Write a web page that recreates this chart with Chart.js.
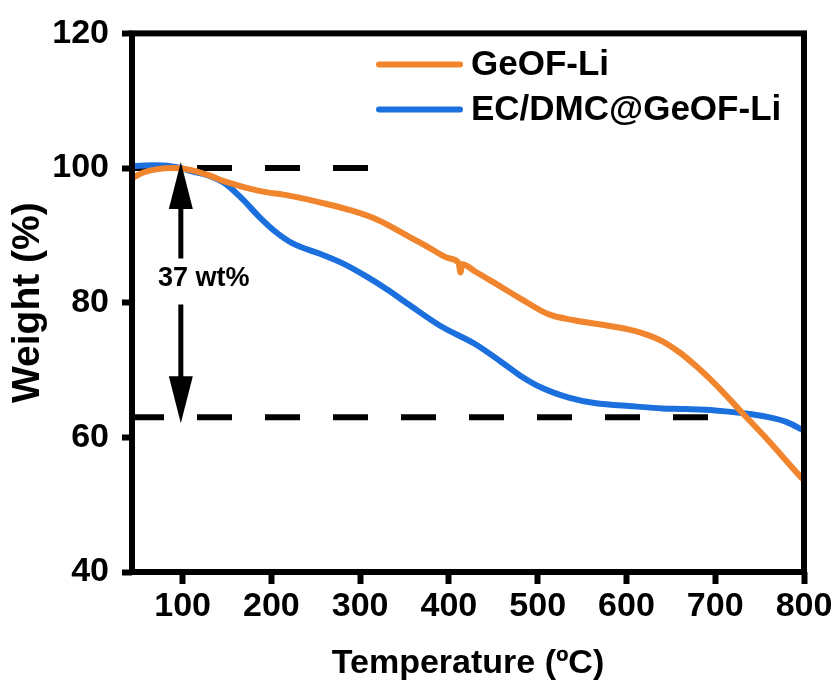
<!DOCTYPE html>
<html>
<head>
<meta charset="utf-8">
<title>TGA</title>
<script src="https://cdn.jsdelivr.net/npm/chart.js"></script>
<style>
  html, body { margin: 0; padding: 0; background: #fff; }
  canvas { display: block; }
</style>
</head>
<body>
<canvas id="tga" width="836" height="686"></canvas>
<script>
// TGA curves, temperature in ºC, weight in %
const geofTemp = [43, 55, 70, 90, 110, 130, 150, 186, 220, 261, 290, 320, 354, 380, 400, 411, 413, 415, 430, 448, 482, 512, 541, 583, 615, 640, 660, 680, 700, 730, 760, 795, 800];
const geofWeight = [98.5, 99.3, 99.8, 100.0, 99.7, 98.9, 97.9, 96.6, 95.9, 94.7, 93.7, 92.3, 89.9, 88.0, 86.6, 85.9, 84.5, 85.7, 84.6, 83.2, 80.5, 78.3, 77.4, 76.5, 75.6, 74.3, 72.6, 70.4, 67.9, 63.7, 59.5, 54.3, 53.6];

const ecTemp = [43, 70, 95, 111, 129, 149, 168, 186, 205, 224, 254, 281, 307, 330, 354, 391, 429, 459, 480, 504, 535, 564, 609, 640, 666, 700, 730, 760, 780, 800];
const ecWeight = [100.3, 100.4, 100.1, 99.5, 98.9, 97.6, 95.3, 92.8, 90.5, 88.8, 87.3, 85.8, 83.9, 82.0, 79.8, 76.5, 73.9, 71.2, 69.2, 67.4, 65.9, 65.1, 64.6, 64.3, 64.2, 64.0, 63.6, 63.0, 62.3, 61.0];

const seriesNames = ['GeOF-Li', 'EC/DMC@GeOF-Li'];
const seriesColors = ['#F0852D', '#1C70DE'];

const xTicks = [100, 200, 300, 400, 500, 600, 700, 800];
const yTicks = [40, 60, 80, 100, 120];

// weight-loss marker: two dashed levels and a double arrow between them
const startWeight = 100;
const lossPercent = 37;
const endWeight = startWeight - lossPercent;
const upperDashEnd = 310;
const lowerDashEnd = 697;
const arrowTemp = 98;
const lossLabel = lossPercent + ' wt%';

const FONT = "'Liberation Sans', Arial, sans-serif";

const toPoints = (xs, ys) => xs.map((x, i) => ({ x: x, y: ys[i] }));

const framePlugin = {
    id: 'frame',
    afterDraw(chart) {
        const { ctx, chartArea: a } = chart;
        ctx.save();
        ctx.strokeStyle = '#000';
        ctx.lineWidth = 6;
        ctx.lineJoin = 'miter';
        ctx.strokeRect(a.left, a.top, a.right - a.left, a.bottom - a.top);
        ctx.restore();
    }
};

const dashPlugin = {
    id: 'dashLevels',
    beforeDatasetsDraw(chart) {
        const { ctx, chartArea: a, scales: { x, y } } = chart;
        ctx.save();
        ctx.strokeStyle = '#000';
        ctx.lineWidth = 6;
        ctx.setLineDash([35, 33]);
        ctx.lineCap = 'butt';
        [[startWeight, upperDashEnd], [endWeight, lowerDashEnd]].forEach(([w, t]) => {
            const py = y.getPixelForValue(w);
            ctx.beginPath();
            ctx.moveTo(a.left - 3, py);
            ctx.lineTo(x.getPixelForValue(t), py);
            ctx.stroke();
        });
        ctx.restore();
    }
};

const arrowPlugin = {
    id: 'lossArrow',
    afterDatasetsDraw(chart) {
        const { ctx, scales: { x, y } } = chart;
        const px = x.getPixelForValue(arrowTemp);
        const top = y.getPixelForValue(startWeight) - 6;
        const bottom = y.getPixelForValue(endWeight) + 6;
        const headLen = 47, headHalf = 12;
        const labelY = (top + bottom) / 2 - 14;

        ctx.save();
        ctx.fillStyle = '#000';
        ctx.strokeStyle = '#000';
        ctx.lineWidth = 5;
        ctx.beginPath();
        ctx.moveTo(px, top + headLen - 2);
        ctx.lineTo(px, labelY - 20);
        ctx.moveTo(px, labelY + 26);
        ctx.lineTo(px, bottom - headLen + 2);
        ctx.stroke();

        ctx.beginPath();
        ctx.moveTo(px, top);
        ctx.lineTo(px - headHalf, top + headLen);
        ctx.lineTo(px + headHalf, top + headLen);
        ctx.closePath();
        ctx.fill();

        ctx.beginPath();
        ctx.moveTo(px, bottom);
        ctx.lineTo(px - headHalf, bottom - headLen);
        ctx.lineTo(px + headHalf, bottom - headLen);
        ctx.closePath();
        ctx.fill();

        ctx.font = 'bold 27px ' + FONT;
        ctx.textAlign = 'center';
        ctx.textBaseline = 'middle';
        ctx.fillText(lossLabel, px + 23, labelY);
        ctx.restore();
    }
};

const legendPlugin = {
    id: 'insideLegend',
    afterDraw(chart) {
        const { ctx, chartArea: a } = chart;
        ctx.save();
        ctx.font = 'bold 35px ' + FONT;
        ctx.textBaseline = 'middle';
        ctx.textAlign = 'left';
        chart.data.datasets.forEach((ds, i) => {
            const ly = a.top + 31 + i * 45;
            ctx.strokeStyle = ds.borderColor;
            ctx.lineWidth = 6;
            ctx.lineCap = 'round';
            ctx.beginPath();
            ctx.moveTo(a.left + 247, ly);
            ctx.lineTo(a.left + 328, ly);
            ctx.stroke();
            ctx.fillStyle = '#000';
            ctx.fillText(ds.label, a.left + 339, ly + 1);
        });
        ctx.restore();
    }
};

const ctx = document.getElementById('tga').getContext('2d');

new Chart(ctx, {
    type: 'line',
    data: {
        datasets: [
            {
                label: seriesNames[0],
                data: toPoints(geofTemp, geofWeight),
                borderColor: seriesColors[0],
                borderWidth: 6,
                pointRadius: 0,
                cubicInterpolationMode: 'monotone',
                fill: false
            },
            {
                label: seriesNames[1],
                data: toPoints(ecTemp, ecWeight),
                borderColor: seriesColors[1],
                borderWidth: 6,
                pointRadius: 0,
                cubicInterpolationMode: 'monotone',
                fill: false
            }
        ]
    },
    options: {
        responsive: false,
        animation: false,
        layout: { padding: { top: 31, right: 32, left: 0, bottom: 0 } },
        plugins: {
            legend: { display: false },
            tooltip: { enabled: false }
        },
        scales: {
            x: {
                type: 'linear',
                min: 43,
                max: 800,
                afterBuildTicks: scale => { scale.ticks = xTicks.map(v => ({ value: v })); },
                afterFit: scale => { scale.height = 114; },
                border: { display: false },
                grid: {
                    drawOnChartArea: false,
                    drawTicks: true,
                    tickLength: 12,
                    tickWidth: 6,
                    tickColor: '#000'
                },
                ticks: {
                    color: '#000',
                    padding: 2,
                    maxRotation: 0,
                    font: { family: FONT, size: 34, weight: 'bold' }
                },
                title: {
                    display: true,
                    text: 'Temperature (ºC)',
                    color: '#000',
                    padding: { top: 0, bottom: 2 },
                    font: { family: FONT, size: 34, weight: 'bold' }
                }
            },
            y: {
                min: 40,
                max: 120,
                afterBuildTicks: scale => { scale.ticks = yTicks.map(v => ({ value: v })); },
                afterFit: scale => { scale.width = 132; },
                border: { display: false },
                grid: {
                    drawOnChartArea: false,
                    drawTicks: true,
                    tickLength: 10,
                    tickWidth: 6,
                    tickColor: '#000'
                },
                ticks: {
                    color: '#000',
                    padding: 13,
                    font: { family: FONT, size: 34, weight: 'bold' }
                },
                title: {
                    display: true,
                    text: 'Weight (%)',
                    color: '#000',
                    padding: { top: 5, bottom: 0 },
                    font: { family: FONT, size: 39, weight: 'bold' }
                }
            }
        }
    },
    plugins: [dashPlugin, arrowPlugin, framePlugin, legendPlugin]
});
</script>
</body>
</html>
